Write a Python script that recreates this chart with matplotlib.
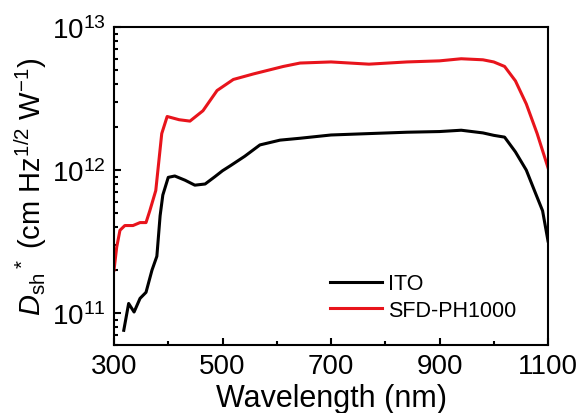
import numpy as np
import matplotlib.pyplot as plt
from matplotlib.ticker import LogLocator, MultipleLocator, NullFormatter

plt.rcParams['font.family'] = ['Liberation Sans', 'DejaVu Sans']
plt.rcParams['mathtext.fontset'] = 'custom'
plt.rcParams['mathtext.rm'] = 'Liberation Sans'
plt.rcParams['mathtext.it'] = 'Liberation Sans:italic'

# ITO curve (wavelength nm, detectivity)
ito_wl = [318, 327, 337, 348, 359, 370, 379, 385, 390, 400, 412, 431, 449, 468,
          486, 500, 514, 541, 569, 606, 643, 700, 770, 840, 900, 940, 980, 1000,
          1020, 1040, 1060, 1075, 1090, 1100]
ito_d = [7.6e10, 1.17e11, 1.02e11, 1.27e11, 1.4e11, 2.0e11, 2.5e11, 4.8e11, 6.7e11,
         8.9e11, 9.1e11, 8.5e11, 7.85e11, 8.0e11, 9.0e11, 9.9e11, 1.07e12, 1.25e12,
         1.5e12, 1.62e12, 1.67e12, 1.76e12, 1.8e12, 1.84e12, 1.86e12, 1.9e12, 1.82e12,
         1.75e12, 1.7e12, 1.34e12, 1.0e12, 7.2e11, 5.2e11, 3.2e11]

# SFD-PH1000 curve
sfd_wl = [300, 305, 311, 320, 335, 348, 359, 366, 377, 388, 398, 420, 440, 464,
          490, 520, 557, 612, 643, 700, 770, 840, 900, 940, 980, 1000, 1020, 1040,
          1060, 1080, 1100]
sfd_d = [2.0e11, 2.9e11, 3.8e11, 4.1e11, 4.1e11, 4.3e11, 4.3e11, 5.2e11, 7.2e11,
         1.8e12, 2.37e12, 2.25e12, 2.2e12, 2.6e12, 3.6e12, 4.3e12, 4.7e12, 5.3e12,
         5.6e12, 5.7e12, 5.5e12, 5.7e12, 5.8e12, 6.0e12, 5.9e12, 5.7e12, 5.3e12,
         4.2e12, 2.9e12, 1.8e12, 1.04e12]

x_ticks = [300, 500, 700, 900, 1100]

fig = plt.figure(figsize=(5.82, 4.14), dpi=100)
ax = fig.add_axes([114 / 582, 1 - 346 / 414, 434 / 582, 318 / 414])

ax.plot(ito_wl, ito_d, color='black', lw=2.2, label='ITO')
ax.plot(sfd_wl, sfd_d, color='#e8141c', lw=2.2, label='SFD-PH1000')

ax.set_yscale('log')
ax.set_xlim(300, 1100)
ax.set_ylim(6e10, 1e13)
ax.set_xticks(x_ticks)
ax.xaxis.set_minor_locator(MultipleLocator(100))
ax.yaxis.set_major_locator(LogLocator(base=10, numticks=10))
ax.yaxis.set_minor_locator(LogLocator(base=10, subs=np.arange(2, 10), numticks=10))
ax.yaxis.set_minor_formatter(NullFormatter())

ax.tick_params(which='both', direction='in', labelsize=20, width=1.5)
ax.tick_params(which='major', length=5, pad=6)
ax.tick_params(which='minor', length=3)
for s in ax.spines.values():
    s.set_linewidth(1.5)

ax.set_xlabel('Wavelength (nm)', fontsize=22, labelpad=3)
ax.set_ylabel(r'$D_{\mathrm{sh}}$$^*$ (cm Hz$^{1/2}$ W$^{-1}$)', fontsize=21, labelpad=2)

ax.legend(loc='lower right', bbox_to_anchor=(0.972, 0.015), frameon=False, fontsize=15.5,
          handlelength=2.4, handletextpad=0.3, labelspacing=0.25)

fig.savefig('out.png', dpi=100)
